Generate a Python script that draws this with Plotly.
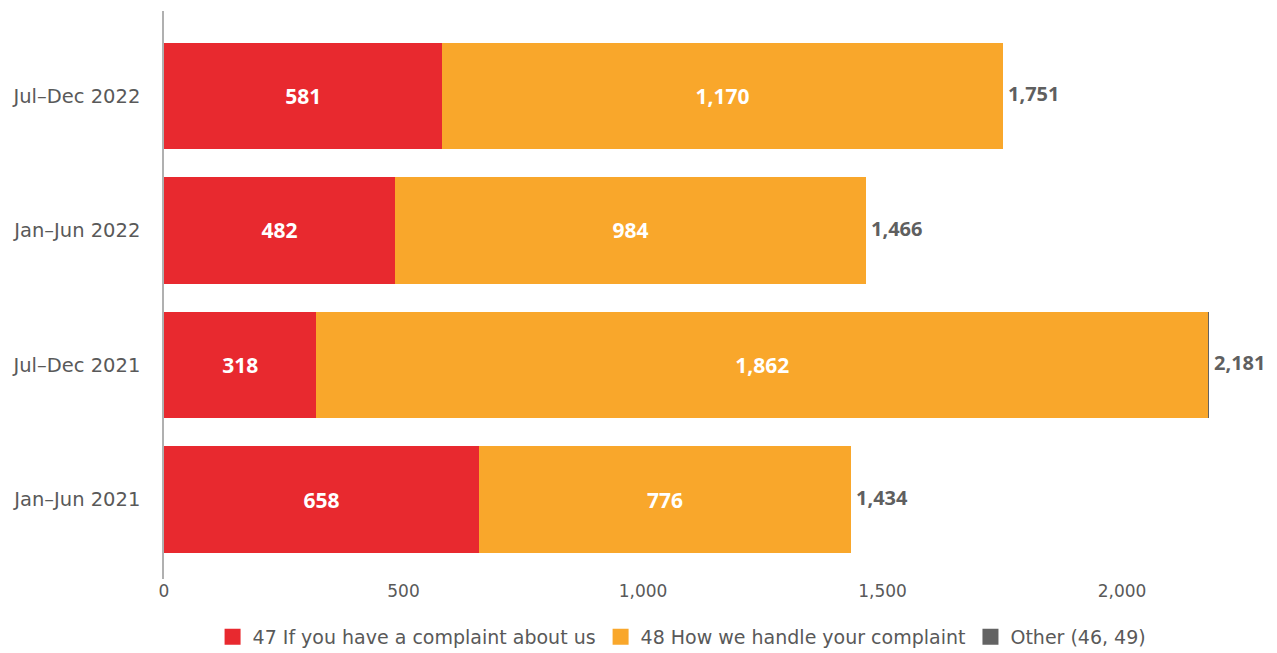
import plotly.graph_objects as go

categories = ["Jan–Jun 2021", "Jul–Dec 2021", "Jan–Jun 2022", "Jul–Dec 2022"]
s47 = [658, 318, 482, 581]
s48 = [776, 1862, 984, 1170]
other = [0, 1, 0, 0]
names = ["47 If you have a complaint about us", "48 How we handle your complaint", "Other (46, 49)"]
colors = ["#E8292F", "#F9A72B", "#636363"]
x_ticks = [0, 500, 1000, 1500, 2000]
x_ticklabels = ["0", "500", "1,000", "1,500", "2,000"]

totals = [a + b + c for a, b, c in zip(s47, s48, other)]

TXT = "DejaVu Sans"
NUM = "Open Sans"
fig = go.Figure()
for vals, name, col, show in [(s47, names[0], colors[0], True),
                              (s48, names[1], colors[1], True),
                              (other, names[2], colors[2], False)]:
    fig.add_trace(go.Bar(
        y=categories, x=vals, name=name, orientation="h",
        marker=dict(color=col, line=dict(width=0)),
        text=[f"{v:,}" for v in vals] if show else None,
        textposition="inside" if show else "none",
        insidetextanchor="middle",
        textfont=dict(color="white", size=21, family=NUM, weight="bold"),
        hoverinfo="x+name", showlegend=False,
    ))
    # legend swatch
    fig.add_trace(go.Scatter(
        x=[None], y=[None], mode="markers", name=name,
        marker=dict(symbol="square", size=22, color=col), hoverinfo="skip",
    ))

for cat, t in zip(categories, totals):
    fig.add_annotation(x=t, y=cat, text=f"{t:,}", showarrow=False, xanchor="left",
                       xshift=3, yshift=2,
                       font=dict(color="#5f5f5f", size=20, family=NUM, weight="bold"))

fig.update_layout(
    barmode="stack",
    bargap=0.21,
    width=1277, height=653,
    margin=dict(l=156, r=14, t=3, b=82),
    plot_bgcolor="white", paper_bgcolor="white",
    font=dict(family=TXT, color="#595959", size=17),
    uniformtext=dict(mode="show", minsize=10),
    legend=dict(orientation="h", x=0.468, xanchor="center", y=-0.102, yanchor="middle",
                font=dict(size=19, color="#595959", family=TXT), traceorder="normal",
                itemwidth=30),
    xaxis=dict(range=[0, 2311], tickvals=x_ticks, ticktext=x_ticklabels, showgrid=False,
               zeroline=False, showline=False, ticks="", automargin=False,
               tickfont=dict(size=17, color="#595959")),
    yaxis=dict(range=[-0.59, 3.63], showline=True, linecolor="#b0b0b0", linewidth=1.5,
               showgrid=False, zeroline=False, ticks="", ticklabelstandoff=18, automargin=False,
               tickfont=dict(size=19.5, color="#595959")),
)

fig.write_html("out.html")
